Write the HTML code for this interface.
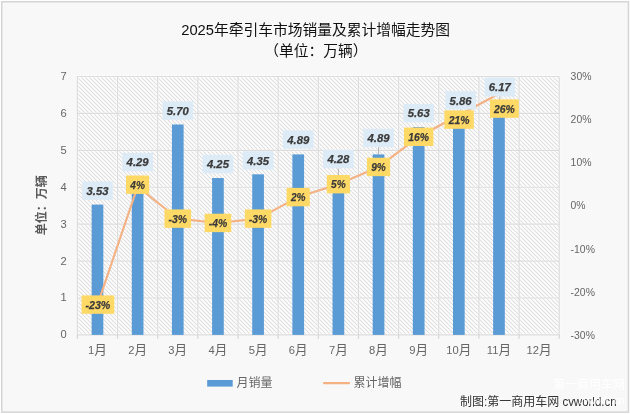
<!DOCTYPE html>
<html lang="zh-CN"><head><meta charset="utf-8"><title>2025年牵引车市场销量及累计增幅走势图</title>
<style>
html,body{margin:0;padding:0;background:#fff;}
body{width:630px;height:414px;overflow:hidden;font-family:"Liberation Sans", "Noto Sans CJK SC", sans-serif;}
svg{display:block;}
text{font-family:"Liberation Sans", "Noto Sans CJK SC", sans-serif;}
.ax{font-size:11.4px;fill:#666666;}
.dl{font-size:11.8px;font-weight:bold;font-style:italic;fill:#3a3a3a;stroke:#3a3a3a;stroke-width:0.25px;}
.ttl{font-size:14.75px;fill:#111111;}
</style></head><body>
<svg width="630" height="414" viewBox="0 0 630 414">
<defs>
<pattern id="hatch" width="4" height="4" patternUnits="userSpaceOnUse">
<rect width="4" height="4" fill="#ffffff"/>
<path d="M-1,-1 L5,5 M-1,3 L1,5 M3,-1 L5,1" stroke="#dedede" stroke-width="1.1"/>
</pattern>
</defs>
<rect x="0" y="0" width="630" height="414" fill="#ffffff"/>
<rect x="1.75" y="1.75" width="626.7" height="410.4" fill="#f8f8f8" stroke="#d5d5d5" stroke-width="1.5"/>
<rect x="77.4" y="76.5" width="481.80" height="258.40" fill="url(#hatch)"/>

<g stroke="#ffffff" stroke-width="2.8" opacity="0.5"><line x1="77.4" y1="334.90" x2="559.2" y2="334.90"/><line x1="77.4" y1="297.99" x2="559.2" y2="297.99"/><line x1="77.4" y1="261.07" x2="559.2" y2="261.07"/><line x1="77.4" y1="224.16" x2="559.2" y2="224.16"/><line x1="77.4" y1="187.24" x2="559.2" y2="187.24"/><line x1="77.4" y1="150.33" x2="559.2" y2="150.33"/><line x1="77.4" y1="113.41" x2="559.2" y2="113.41"/><line x1="77.4" y1="76.50" x2="559.2" y2="76.50"/><line x1="77.40" y1="76.5" x2="77.40" y2="334.9"/><line x1="117.55" y1="76.5" x2="117.55" y2="334.9"/><line x1="157.70" y1="76.5" x2="157.70" y2="334.9"/><line x1="197.85" y1="76.5" x2="197.85" y2="334.9"/><line x1="238.00" y1="76.5" x2="238.00" y2="334.9"/><line x1="278.15" y1="76.5" x2="278.15" y2="334.9"/><line x1="318.30" y1="76.5" x2="318.30" y2="334.9"/><line x1="358.45" y1="76.5" x2="358.45" y2="334.9"/><line x1="398.60" y1="76.5" x2="398.60" y2="334.9"/><line x1="438.75" y1="76.5" x2="438.75" y2="334.9"/><line x1="478.90" y1="76.5" x2="478.90" y2="334.9"/><line x1="519.05" y1="76.5" x2="519.05" y2="334.9"/><line x1="559.20" y1="76.5" x2="559.20" y2="334.9"/></g>
<g stroke="#dcdcdc" stroke-width="1.2"><line x1="77.4" y1="334.90" x2="559.2" y2="334.90"/><line x1="77.4" y1="297.99" x2="559.2" y2="297.99"/><line x1="77.4" y1="261.07" x2="559.2" y2="261.07"/><line x1="77.4" y1="224.16" x2="559.2" y2="224.16"/><line x1="77.4" y1="187.24" x2="559.2" y2="187.24"/><line x1="77.4" y1="150.33" x2="559.2" y2="150.33"/><line x1="77.4" y1="113.41" x2="559.2" y2="113.41"/><line x1="77.4" y1="76.50" x2="559.2" y2="76.50"/><line x1="77.40" y1="76.5" x2="77.40" y2="334.9"/><line x1="117.55" y1="76.5" x2="117.55" y2="334.9"/><line x1="157.70" y1="76.5" x2="157.70" y2="334.9"/><line x1="197.85" y1="76.5" x2="197.85" y2="334.9"/><line x1="238.00" y1="76.5" x2="238.00" y2="334.9"/><line x1="278.15" y1="76.5" x2="278.15" y2="334.9"/><line x1="318.30" y1="76.5" x2="318.30" y2="334.9"/><line x1="358.45" y1="76.5" x2="358.45" y2="334.9"/><line x1="398.60" y1="76.5" x2="398.60" y2="334.9"/><line x1="438.75" y1="76.5" x2="438.75" y2="334.9"/><line x1="478.90" y1="76.5" x2="478.90" y2="334.9"/><line x1="519.05" y1="76.5" x2="519.05" y2="334.9"/><line x1="559.20" y1="76.5" x2="559.20" y2="334.9"/></g>
<g stroke="#d6d6d6" stroke-width="1.2"><line x1="77.40" y1="334.9" x2="77.40" y2="338.7"/><line x1="117.55" y1="334.9" x2="117.55" y2="338.7"/><line x1="157.70" y1="334.9" x2="157.70" y2="338.7"/><line x1="197.85" y1="334.9" x2="197.85" y2="338.7"/><line x1="238.00" y1="334.9" x2="238.00" y2="338.7"/><line x1="278.15" y1="334.9" x2="278.15" y2="338.7"/><line x1="318.30" y1="334.9" x2="318.30" y2="338.7"/><line x1="358.45" y1="334.9" x2="358.45" y2="338.7"/><line x1="398.60" y1="334.9" x2="398.60" y2="338.7"/><line x1="438.75" y1="334.9" x2="438.75" y2="338.7"/><line x1="478.90" y1="334.9" x2="478.90" y2="338.7"/><line x1="519.05" y1="334.9" x2="519.05" y2="338.7"/><line x1="559.20" y1="334.9" x2="559.20" y2="338.7"/></g>
<rect x="91.63" y="204.59" width="11.7" height="130.31" fill="#5b9bd5"/>
<rect x="131.78" y="176.54" width="11.7" height="158.36" fill="#5b9bd5"/>
<rect x="171.93" y="124.49" width="11.7" height="210.41" fill="#5b9bd5"/>
<rect x="212.08" y="178.01" width="11.7" height="156.89" fill="#5b9bd5"/>
<rect x="252.23" y="174.32" width="11.7" height="160.58" fill="#5b9bd5"/>
<rect x="292.38" y="154.39" width="11.7" height="180.51" fill="#5b9bd5"/>
<rect x="332.52" y="176.91" width="11.7" height="157.99" fill="#5b9bd5"/>
<rect x="372.68" y="154.39" width="11.7" height="180.51" fill="#5b9bd5"/>
<rect x="412.83" y="127.07" width="11.7" height="207.83" fill="#5b9bd5"/>
<rect x="452.98" y="118.58" width="11.7" height="216.32" fill="#5b9bd5"/>
<rect x="493.12" y="107.14" width="11.7" height="227.76" fill="#5b9bd5"/>
<path d="M97.48,304.75 L137.62,186.70 L177.78,218.62 L217.93,222.93 L258.08,218.62 L298.23,197.09 L338.38,184.17 L378.53,166.94 L418.68,136.79 L458.83,115.26 L498.98,93.73" fill="none" stroke="#f4b183" stroke-width="2.1" stroke-linecap="round" stroke-linejoin="round"/>
<line x1="338.38" y1="168.30" x2="338.38" y2="176.91" stroke="#a6a6a6" stroke-width="0.8"/>
<line x1="378.53" y1="147.10" x2="378.53" y2="154.39" stroke="#a6a6a6" stroke-width="0.8"/>
<line x1="460.60" y1="109.50" x2="460.60" y2="118.58" stroke="#a6a6a6" stroke-width="0.8"/>
<line x1="499.80" y1="96.20" x2="499.80" y2="107.14" stroke="#a6a6a6" stroke-width="0.8"/>
<rect x="82.18" y="181.49" width="30.6" height="18.4" fill="#ddebf7"/>
<text class="dl" x="97.48" y="194.99" text-anchor="middle" textLength="22" lengthAdjust="spacingAndGlyphs">3.53</text>
<rect x="122.33" y="152.90" width="30.6" height="18.4" fill="#ddebf7"/>
<text class="dl" x="137.62" y="166.40" text-anchor="middle" textLength="22" lengthAdjust="spacingAndGlyphs">4.29</text>
<rect x="162.48" y="101.39" width="30.6" height="18.4" fill="#ddebf7"/>
<text class="dl" x="177.78" y="114.89" text-anchor="middle" textLength="22" lengthAdjust="spacingAndGlyphs">5.70</text>
<rect x="202.63" y="154.91" width="30.6" height="18.4" fill="#ddebf7"/>
<text class="dl" x="217.93" y="168.41" text-anchor="middle" textLength="22" lengthAdjust="spacingAndGlyphs">4.25</text>
<rect x="242.78" y="151.22" width="30.6" height="18.4" fill="#ddebf7"/>
<text class="dl" x="258.08" y="164.72" text-anchor="middle" textLength="22" lengthAdjust="spacingAndGlyphs">4.35</text>
<rect x="282.93" y="130.30" width="30.6" height="18.4" fill="#ddebf7"/>
<text class="dl" x="298.23" y="143.80" text-anchor="middle" textLength="22" lengthAdjust="spacingAndGlyphs">4.89</text>
<rect x="323.07" y="149.90" width="30.6" height="18.4" fill="#ddebf7"/>
<text class="dl" x="338.38" y="163.40" text-anchor="middle" textLength="22" lengthAdjust="spacingAndGlyphs">4.28</text>
<rect x="363.23" y="128.70" width="30.6" height="18.4" fill="#ddebf7"/>
<text class="dl" x="378.53" y="142.20" text-anchor="middle" textLength="22" lengthAdjust="spacingAndGlyphs">4.89</text>
<rect x="403.38" y="103.97" width="30.6" height="18.4" fill="#ddebf7"/>
<text class="dl" x="418.68" y="117.47" text-anchor="middle" textLength="22" lengthAdjust="spacingAndGlyphs">5.63</text>
<rect x="445.30" y="91.10" width="30.6" height="18.4" fill="#ddebf7"/>
<text class="dl" x="460.60" y="104.60" text-anchor="middle" textLength="22" lengthAdjust="spacingAndGlyphs">5.86</text>
<rect x="484.50" y="77.50" width="30.6" height="19.0" fill="#ddebf7"/>
<text class="dl" x="499.80" y="91.30" text-anchor="middle" textLength="22" lengthAdjust="spacingAndGlyphs">6.17</text>
<rect x="81.55" y="295.40" width="32.7" height="18.4" fill="#ffd966"/>
<text class="dl" x="97.90" y="308.90" text-anchor="middle" textLength="25.0" lengthAdjust="spacingAndGlyphs">-23%</text>
<rect x="126.00" y="175.50" width="23.2" height="18.4" fill="#ffd966"/>
<text class="dl" x="137.60" y="189.00" text-anchor="middle" textLength="14.6" lengthAdjust="spacingAndGlyphs">4%</text>
<rect x="164.48" y="209.42" width="26.6" height="18.4" fill="#ffd966"/>
<text class="dl" x="177.78" y="222.92" text-anchor="middle" textLength="18.5" lengthAdjust="spacingAndGlyphs">-3%</text>
<rect x="204.63" y="213.73" width="26.6" height="18.4" fill="#ffd966"/>
<text class="dl" x="217.93" y="227.23" text-anchor="middle" textLength="18.5" lengthAdjust="spacingAndGlyphs">-4%</text>
<rect x="244.78" y="209.42" width="26.6" height="18.4" fill="#ffd966"/>
<text class="dl" x="258.08" y="222.92" text-anchor="middle" textLength="18.5" lengthAdjust="spacingAndGlyphs">-3%</text>
<rect x="286.62" y="187.89" width="23.2" height="18.4" fill="#ffd966"/>
<text class="dl" x="298.23" y="201.39" text-anchor="middle" textLength="14.6" lengthAdjust="spacingAndGlyphs">2%</text>
<rect x="326.77" y="174.97" width="23.2" height="18.4" fill="#ffd966"/>
<text class="dl" x="338.38" y="188.47" text-anchor="middle" textLength="14.6" lengthAdjust="spacingAndGlyphs">5%</text>
<rect x="366.93" y="157.74" width="23.2" height="18.4" fill="#ffd966"/>
<text class="dl" x="378.53" y="171.24" text-anchor="middle" textLength="14.6" lengthAdjust="spacingAndGlyphs">9%</text>
<rect x="403.98" y="127.59" width="29.4" height="18.4" fill="#ffd966"/>
<text class="dl" x="418.68" y="141.09" text-anchor="middle" textLength="20.8" lengthAdjust="spacingAndGlyphs">16%</text>
<rect x="444.40" y="110.40" width="29.4" height="18.4" fill="#ffd966"/>
<text class="dl" x="459.10" y="123.90" text-anchor="middle" textLength="20.8" lengthAdjust="spacingAndGlyphs">21%</text>
<rect x="490.00" y="99.40" width="28.8" height="18.4" fill="#ffd966"/>
<text class="dl" x="504.40" y="112.90" text-anchor="middle" textLength="20.8" lengthAdjust="spacingAndGlyphs">26%</text>
<text class="ax" x="66.6" y="338.40" text-anchor="end" textLength="6.2" lengthAdjust="spacingAndGlyphs" style="font-size:11.8px">0</text>
<text class="ax" x="66.6" y="301.49" text-anchor="end" textLength="6.2" lengthAdjust="spacingAndGlyphs" style="font-size:11.8px">1</text>
<text class="ax" x="66.6" y="264.57" text-anchor="end" textLength="6.2" lengthAdjust="spacingAndGlyphs" style="font-size:11.8px">2</text>
<text class="ax" x="66.6" y="227.66" text-anchor="end" textLength="6.2" lengthAdjust="spacingAndGlyphs" style="font-size:11.8px">3</text>
<text class="ax" x="66.6" y="190.74" text-anchor="end" textLength="6.2" lengthAdjust="spacingAndGlyphs" style="font-size:11.8px">4</text>
<text class="ax" x="66.6" y="153.83" text-anchor="end" textLength="6.2" lengthAdjust="spacingAndGlyphs" style="font-size:11.8px">5</text>
<text class="ax" x="66.6" y="116.91" text-anchor="end" textLength="6.2" lengthAdjust="spacingAndGlyphs" style="font-size:11.8px">6</text>
<text class="ax" x="66.6" y="80.00" text-anchor="end" textLength="6.2" lengthAdjust="spacingAndGlyphs" style="font-size:11.8px">7</text>
<text class="ax" x="570.6" y="338.65" textLength="24.3" lengthAdjust="spacingAndGlyphs">-30%</text>
<text class="ax" x="570.6" y="295.58" textLength="24.3" lengthAdjust="spacingAndGlyphs">-20%</text>
<text class="ax" x="570.6" y="252.52" textLength="24.3" lengthAdjust="spacingAndGlyphs">-10%</text>
<text class="ax" x="570.6" y="209.45" textLength="15.0" lengthAdjust="spacingAndGlyphs">0%</text>
<text class="ax" x="570.6" y="166.38" textLength="20.9" lengthAdjust="spacingAndGlyphs">10%</text>
<text class="ax" x="570.6" y="123.32" textLength="20.9" lengthAdjust="spacingAndGlyphs">20%</text>
<text class="ax" x="570.6" y="80.25" textLength="20.9" lengthAdjust="spacingAndGlyphs">30%</text>
<text class="ax" x="97.48" y="354.3" text-anchor="middle"><tspan style="font-size:11.2px">1</tspan><tspan style="font-size:12.6px">月</tspan></text>
<text class="ax" x="137.62" y="354.3" text-anchor="middle"><tspan style="font-size:11.2px">2</tspan><tspan style="font-size:12.6px">月</tspan></text>
<text class="ax" x="177.78" y="354.3" text-anchor="middle"><tspan style="font-size:11.2px">3</tspan><tspan style="font-size:12.6px">月</tspan></text>
<text class="ax" x="217.93" y="354.3" text-anchor="middle"><tspan style="font-size:11.2px">4</tspan><tspan style="font-size:12.6px">月</tspan></text>
<text class="ax" x="258.08" y="354.3" text-anchor="middle"><tspan style="font-size:11.2px">5</tspan><tspan style="font-size:12.6px">月</tspan></text>
<text class="ax" x="298.23" y="354.3" text-anchor="middle"><tspan style="font-size:11.2px">6</tspan><tspan style="font-size:12.6px">月</tspan></text>
<text class="ax" x="338.38" y="354.3" text-anchor="middle"><tspan style="font-size:11.2px">7</tspan><tspan style="font-size:12.6px">月</tspan></text>
<text class="ax" x="378.53" y="354.3" text-anchor="middle"><tspan style="font-size:11.2px">8</tspan><tspan style="font-size:12.6px">月</tspan></text>
<text class="ax" x="418.68" y="354.3" text-anchor="middle"><tspan style="font-size:11.2px">9</tspan><tspan style="font-size:12.6px">月</tspan></text>
<text class="ax" x="458.83" y="354.3" text-anchor="middle"><tspan style="font-size:11.2px">10</tspan><tspan style="font-size:12.6px">月</tspan></text>
<text class="ax" x="498.98" y="354.3" text-anchor="middle"><tspan style="font-size:11.2px">11</tspan><tspan style="font-size:12.6px">月</tspan></text>
<text class="ax" x="539.13" y="354.3" text-anchor="middle"><tspan style="font-size:11.2px">12</tspan><tspan style="font-size:12.6px">月</tspan></text>
<text class="ttl" x="315.6" y="35.1" text-anchor="middle">2025年牵引车市场销量及累计增幅走势图</text>
<text class="ttl" x="315.8" y="55.9" text-anchor="middle">（单位：万辆）</text>
<text x="0" y="0" transform="translate(46.2,205.2) rotate(-90)" text-anchor="middle" style="font-size:12px;font-weight:bold;fill:#595959;">单位：万辆</text>
<rect x="207.2" y="380" width="25.5" height="6.6" fill="#5b9bd5"/>
<text class="ax" x="236.6" y="387.2" style="font-size:12px">月销量</text>
<line x1="324" y1="383.2" x2="349" y2="383.2" stroke="#f4b183" stroke-width="2.2" stroke-linecap="round"/>
<text class="ax" x="353.6" y="387.2" style="font-size:12px">累计增幅</text>
<text x="460" y="405.9" style="font-size:12px;fill:#333333;">制图:第一商用车网 <tspan x="562.4" textLength="54.2" lengthAdjust="spacingAndGlyphs">cvworld.cn</tspan></text>
<text x="588.9" y="388.9" text-anchor="middle" style="font-size:12px;fill:#ffffff;">第一商用车网</text>
<text x="578.6" y="403.6" textLength="45.6" lengthAdjust="spacingAndGlyphs" style="font-size:10.5px;fill:#ffffff;">cvworld.cn</text>
</svg></body></html>
